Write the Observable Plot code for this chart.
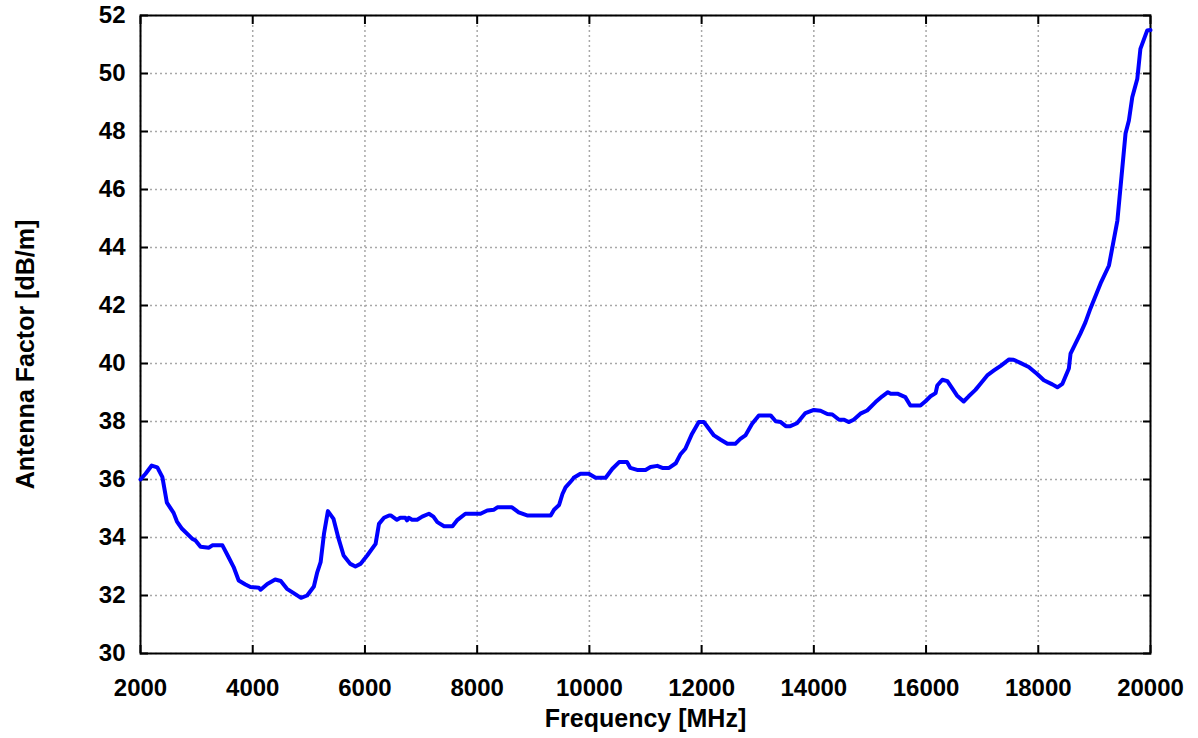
<!DOCTYPE html>
<html>
<head>
<meta charset="utf-8">
<script src="https://cdn.jsdelivr.net/npm/d3@7"></script>
<script src="https://cdn.jsdelivr.net/npm/@observablehq/plot@0.6"></script>
<style>
  html, body { margin: 0; padding: 0; background: #fff; }
  #chart { width: 1198px; height: 738px; }
</style>
</head>
<body>
<div id="chart"></div>
<script>
const frequency = [
  2000, 2090, 2200, 2300, 2390, 2470, 2590, 2650, 2740, 2920, 2980, 3070, 3220, 3280, 3460,
  3570, 3660, 3750, 3870, 3960, 4110, 4140, 4260, 4400, 4500, 4610, 4730, 4860, 4970, 5090,
  5150, 5210, 5270, 5340, 5440, 5530, 5620, 5740, 5830, 5920, 6040, 6190, 6250, 6340, 6430,
  6460, 6570, 6630, 6720, 6750, 6780, 6840, 6930, 7020, 7140, 7220, 7290, 7410, 7560, 7650,
  7790, 8060, 8180, 8300, 8360, 8620, 8740, 8890, 9310, 9370, 9460, 9520, 9575, 9700, 9720,
  9840, 9990, 10110, 10290, 10410, 10530, 10670, 10730, 10850, 11000, 11090, 11210, 11300, 11420, 11540,
  11620, 11710, 11830, 11950, 12040, 12130, 12220, 12340, 12460, 12600, 12690, 12780, 12900, 13020, 13230,
  13320, 13410, 13500, 13580, 13700, 13850, 14000, 14120, 14240, 14330, 14450, 14540, 14620, 14710, 14830,
  14950, 15100, 15220, 15320, 15370, 15490, 15630, 15720, 15900, 15990, 16080, 16170, 16200, 16290, 16380,
  16470, 16550, 16670, 16760, 16880, 16970, 17090, 17210, 17330, 17480, 17560, 17680, 17830, 17980, 18100,
  18250, 18340, 18430, 18545, 18575, 18750, 18840, 18930, 19110, 19260, 19410, 19555, 19615, 19675, 19765,
  19820, 19940, 20000
];
const antennaFactor = [
  36.0, 36.2, 36.48, 36.42, 36.08, 35.2, 34.85, 34.55, 34.3, 33.96, 33.9, 33.68, 33.65, 33.73, 33.73,
  33.32, 32.98, 32.52, 32.38, 32.29, 32.27, 32.2, 32.4, 32.55, 32.5, 32.23, 32.08, 31.92, 32.0, 32.31,
  32.8, 33.15, 34.13, 34.91, 34.64, 33.96, 33.38, 33.09, 33.0, 33.09, 33.38, 33.78, 34.47, 34.68, 34.76,
  34.76, 34.61, 34.68, 34.68, 34.59, 34.68, 34.61, 34.61, 34.72, 34.82, 34.72, 34.53, 34.39, 34.39, 34.61,
  34.82, 34.82, 34.93, 34.96, 35.04, 35.04, 34.87, 34.76, 34.76, 34.96, 35.12, 35.5, 35.73, 36.0, 36.06,
  36.2, 36.2, 36.06, 36.06, 36.37, 36.6, 36.6, 36.4, 36.33, 36.33, 36.43, 36.47, 36.4, 36.4, 36.56,
  36.86, 37.06, 37.58, 37.98, 37.98, 37.75, 37.52, 37.37, 37.23, 37.23, 37.4, 37.52, 37.92, 38.21, 38.21,
  38.01, 37.98, 37.84, 37.84, 37.94, 38.29, 38.4, 38.37, 38.26, 38.24, 38.06, 38.06, 37.98, 38.06, 38.27,
  38.38, 38.67, 38.87, 39.01, 38.96, 38.96, 38.84, 38.55, 38.55, 38.7, 38.87, 38.98, 39.24, 39.44, 39.39,
  39.13, 38.9, 38.69, 38.87, 39.09, 39.3, 39.59, 39.76, 39.92, 40.14, 40.13, 40.02, 39.88, 39.64, 39.42,
  39.28, 39.18, 39.3, 39.83, 40.34, 41.03, 41.42, 41.9, 42.76, 43.38, 44.93, 47.93, 48.38, 49.18, 49.82,
  50.85, 51.48, 51.5
];
const xTicks = [2000, 4000, 6000, 8000, 10000, 12000, 14000, 16000, 18000, 20000];
const yTicks = [30, 32, 34, 36, 38, 40, 42, 44, 46, 48, 50, 52];
const xTitle = "Frequency [MHz]";
const yTitle = "Antenna Factor [dB/m]";

const data = frequency.map((f, i) => ({f, v: antennaFactor[i]}));
const fmt = d => String(d);

const chart = Plot.plot({
  width: 1198,
  height: 738,
  marginLeft: 140,
  marginRight: 48,
  marginTop: 15,
  marginBottom: 85,
  style: {fontFamily: "'Liberation Sans', Arial, sans-serif", fontWeight: "bold", fontSize: "24px", color: "#000", background: "#fff"},
  x: {domain: [2000, 20000], ticks: xTicks},
  y: {domain: [30, 52], ticks: yTicks},
  marks: [
    Plot.gridX(xTicks, {stroke: "#a8a8a8", strokeOpacity: 1, strokeWidth: 1.5, strokeDasharray: "2,3"}),
    Plot.gridY(yTicks, {stroke: "#a8a8a8", strokeOpacity: 1, strokeWidth: 1.5, strokeDasharray: "2,3"}),
    Plot.axisX(xTicks, {anchor: "bottom", tickSize: 0, tickPadding: 25, tickFormat: fmt, label: null, fontSize: 24, fontWeight: "bold"}),
    Plot.axisX(xTicks, {anchor: "bottom", tickSize: 8, dy: -8, text: null, label: null, strokeWidth: 2}),
    Plot.axisX(xTicks, {anchor: "top", tickSize: 8, dy: 8, text: null, label: null, strokeWidth: 2}),
    Plot.axisY(yTicks, {anchor: "left", tickSize: 0, tickPadding: 15, tickFormat: fmt, label: null, fontSize: 24, fontWeight: "bold"}),
    Plot.axisY(yTicks, {anchor: "left", tickSize: 8, dx: 8, text: null, label: null, strokeWidth: 2}),
    Plot.axisY(yTicks, {anchor: "right", tickSize: 8, dx: -8, text: null, label: null, strokeWidth: 2}),
    Plot.frame({stroke: "#000", strokeWidth: 2}),
    Plot.line(data, {x: "f", y: "v", stroke: "#0000ff", strokeWidth: 4, strokeLinejoin: "round", strokeLinecap: "round"}),
    Plot.text([xTitle], {frameAnchor: "bottom", dy: 65, lineAnchor: "middle", textAnchor: "middle", text: d => d, fontSize: 25, fontWeight: "bold", fill: "#000"}),
    Plot.text([yTitle], {frameAnchor: "left", dx: -115, dy: 20, rotate: -90, lineAnchor: "middle", textAnchor: "middle", text: d => d, fontSize: 25, fontWeight: "bold", fill: "#000"})
  ]
});
document.getElementById("chart").appendChild(chart);
</script>
</body>
</html>
